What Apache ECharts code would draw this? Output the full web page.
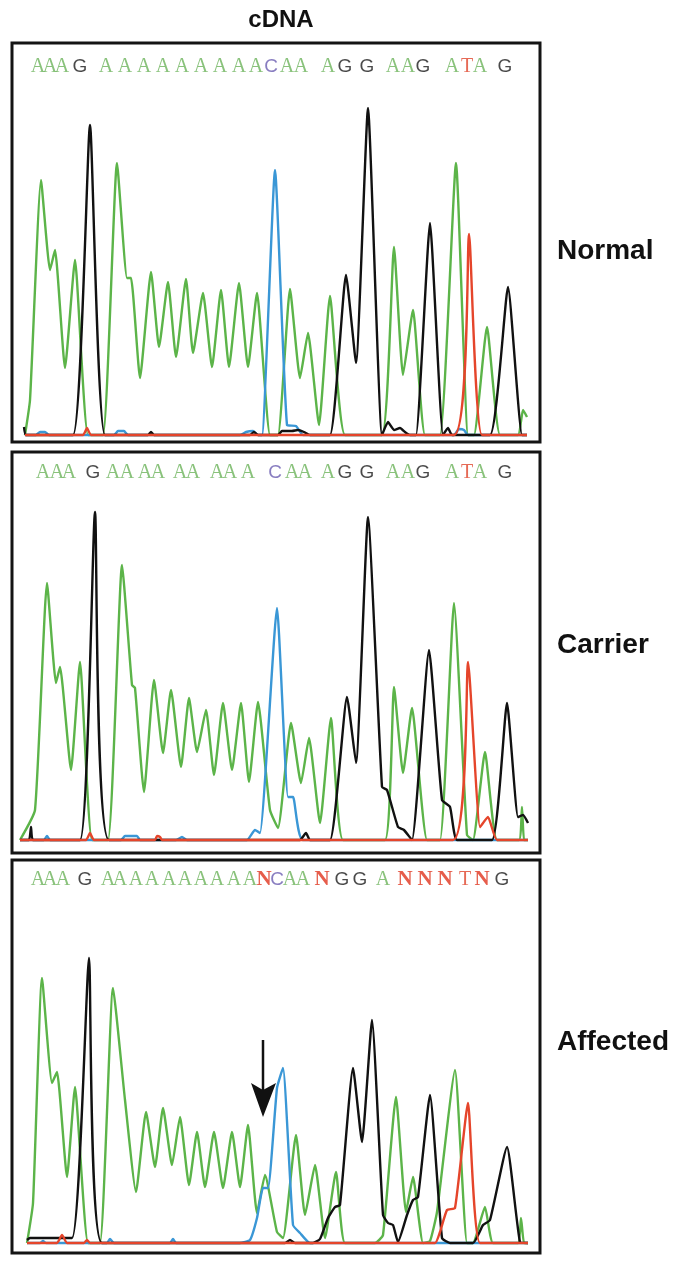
<!DOCTYPE html>
<html><head><meta charset="utf-8">
<script src="https://cdn.jsdelivr.net/npm/echarts@6/dist/echarts.min.js"></script>
<style>html,body{margin:0;padding:0;background:#fff}#c{width:691px;height:1261px}</style>
</head><body><div id="c"></div>
<script>
// ---------- DATA (scan position, signal intensity) ----------
const normalGreen = [[25,0],[30,35],[41,255],[50,165],[55,185],[65,67],[75,175],[88,0],[103,0],[117,272],[127,157],[131,157],[140,57],[151,163],[159,88],[168,153],[176,78],[186,156],[193,82],[203,142],[212,68],[221,145],[229,68],[239,152],[248,68],[257,142],[270,0],[278,0],[290,146],[300,57],[308,102],[319,10],[330,139],[345,0],[382,0],[394,188],[403,60],[413,125],[425,0],[440,0],[456,272],[468,0],[474,0],[487,108],[500,0],[518,0],[523,25],[527,18]];
const normalBlack = [[24,8],[26,0],[73,0],[90,310],[105,0],[148,0],[151,3],[154,0],[250,0],[254,3],[258,0],[278,0],[282,4],[292,4],[298,5],[304,3],[310,0],[330,0],[346,160],[356,72],[368,327],[382,0],[388,13],[394,5],[400,7],[405,3],[410,0],[416,0],[430,212],[443,0],[448,7],[452,0],[490,0],[508,148],[522,0],[527,0]];
const normalBlue = [[25,0],[36,0],[40,3],[45,3],[49,0],[114,0],[118,4],[124,4],[128,0],[240,0],[246,3],[253,4],[258,0],[262,0],[275,265],[287,10],[296,9],[303,0],[454,0],[459,6],[464,5],[468,0],[527,0]];
const normalRed = [[25,0],[83,0],[87,7],[91,0],[454,0],[469,201],[482,0],[527,0]];

const carrierGreen = [[20,0],[35,30],[47,257],[56,157],[60,173],[71,70],[80,178],[92,0],[108,0],[122,275],[132,155],[135,152],[144,48],[154,160],[163,87],[171,150],[181,73],[189,142],[197,88],[206,130],[214,65],[223,137],[232,70],[241,137],[249,58],[258,138],[270,30],[278,12],[291,117],[301,57],[309,102],[320,17],[331,122],[343,0],[385,0],[394,153],[403,67],[412,132],[427,0],[440,0],[454,237],[467,5],[473,0],[485,88],[497,0],[519,0],[522,33],[524,0],[528,0]];
const carrierBlack = [[20,0],[29,0],[31,13],[33,0],[80,0],[95,328],[109,0],[300,0],[306,7],[310,0],[330,0],[347,143],[356,77],[368,323],[382,53],[387,50],[398,13],[404,10],[412,0],[429,190],[442,40],[450,33],[457,0],[492,0],[507,137],[518,23],[523,25],[528,17]];
const carrierBlue = [[20,0],[44,0],[47,4],[50,0],[121,0],[125,4],[137,4],[140,0],[176,0],[182,3],[187,0],[247,0],[255,10],[260,7],[277,232],[288,43],[293,43],[303,0],[528,0]];
const carrierRed = [[20,0],[86,0],[90,7],[94,0],[155,0],[157,4],[160,3],[162,0],[453,0],[468,178],[480,13],[488,23],[497,0],[528,0]];

const affectedGreen = [[27,0],[33,40],[42,265],[52,160],[57,171],[67,66],[75,156],[88,0],[100,0],[113,255],[125,143],[136,51],[146,131],[155,76],[163,135],[172,78],[180,126],[189,58],[197,111],[205,56],[214,111],[223,55],[232,111],[240,56],[248,118],[257,30],[265,68],[277,11],[283,5],[296,108],[305,28],[315,78],[325,5],[336,71],[345,0],[375,0],[383,8],[396,146],[406,31],[413,66],[423,0],[430,2],[437,31],[455,173],[467,0],[473,0],[485,36],[493,0],[518,0],[521,25],[524,0],[528,0]];
const affectedBlack = [[27,3],[30,5],[72,5],[89,285],[102,0],[285,0],[290,3],[295,0],[313,0],[320,4],[328,25],[335,36],[340,38],[353,175],[362,101],[372,223],[383,28],[388,20],[393,18],[398,1],[407,28],[413,43],[418,46],[430,148],[442,5],[450,0],[473,0],[483,18],[490,23],[507,96],[520,1],[528,0]];
const affectedBlue = [[27,0],[40,0],[43,2],[46,0],[107,0],[110,4],[114,0],[170,0],[173,4],[176,0],[240,0],[250,3],[257,25],[263,55],[268,55],[277,155],[283,175],[293,18],[300,10],[310,0],[528,0]];
const affectedRed = [[27,0],[57,0],[62,8],[67,0],[84,0],[87,3],[90,0],[435,0],[440,11],[447,33],[455,35],[468,140],[480,0],[528,0]];

// base calls and their scan positions
const normalSeq = 'AAAGAAAAAAAAACAAAGGAAGATAG'.split('');
const normalCalls = [38,50,62,80,106,125,144,163,182,201,220,239,256,271,287,301,328,345,367,393,408,423,452,467,480,505];
const carrierSeq = 'AAAGAAAAAAAAACAAAGGAAGATAG'.split('');
const carrierCalls = [43,57,69,93,113,127,145,158,180,193,217,230,248,275,292,305,328,345,367,393,408,423,452,467,480,505];
const affectedSeq = 'AAAGAAAAAAAAAANCAANGGANNNTNG'.split('');
const affectedCalls = [38,50,63,85,108,120,136,152,169,185,201,217,234,250,264,277,290,303,322,342,360,383,405,425,445,465,482,502];

const sampleLabels = ['Normal','Carrier','Affected'];
const titleText = 'cDNA';

// ---------- LAYOUT ----------
const panels = [
  {g:normalGreen,k:normalBlack,b:normalBlue,r:normalRed,seq:normalSeq,calls:normalCalls, top:43, bottom:442, base:435, textY:67, labelY:251},
  {g:carrierGreen,k:carrierBlack,b:carrierBlue,r:carrierRed,seq:carrierSeq,calls:carrierCalls, top:452, bottom:853, base:840, textY:473, labelY:645},
  {g:affectedGreen,k:affectedBlack,b:affectedBlue,r:affectedRed,seq:affectedSeq,calls:affectedCalls, top:860, bottom:1253, base:1243, textY:880, labelY:1042}
];
const COL = {g:'#5cb449', k:'#111111', b:'#3a97d6', r:'#e5452b'};
const serif = '"Liberation Serif","DejaVu Serif",serif';
const sans = '"Liberation Sans",Arial,sans-serif';
const rich = {
  A:{color:'#6cb35a', fontFamily:serif, fontSize:20},
  T:{color:'#e0452c', fontFamily:serif, fontSize:20},
  G:{color:'#1c1c1c', fontFamily:sans, fontSize:19},
  C:{color:'#6a5cb0', fontFamily:sans, fontSize:19},
  N:{color:'#e0341e', fontFamily:serif, fontSize:21, fontWeight:'bold'}
};

const grids=[], xAxes=[], yAxes=[], series=[], graphics=[];
panels.forEach((p,i)=>{
  grids.push({left:12, width:528, top:p.top, height:p.bottom-p.top, show:true, borderColor:'#141414', borderWidth:3, backgroundColor:'#fff'});
  xAxes.push({gridIndex:i, type:'value', min:12, max:540, show:false});
  yAxes.push({gridIndex:i, type:'value', min:p.base-p.bottom, max:p.base-p.top, show:false});
  [['g',p.g],['b',p.b],['k',p.k],['r',p.r]].forEach(([c,d],j)=>{
    series.push({type:'line', xAxisIndex:i, yAxisIndex:i, data:d, showSymbol:false, smooth:0.15,
      lineStyle:{color:COL[c], width:2.4, join:'round'}, z:2+j, silent:true});
  });
  const ty = p.base - p.textY;
  series.push({type:'scatter', xAxisIndex:i, yAxisIndex:i, symbolSize:1, itemStyle:{color:'transparent'}, z:10, silent:true,
    data:p.calls.map((x,k)=>({value:[x,ty], label:{formatter:'{'+p.seq[k]+'|'+p.seq[k]+'}'}})),
    label:{show:true, position:'inside', rich:rich}});
  graphics.push({type:'text', x:557, y:p.labelY, style:{text:sampleLabels[i], font:'bold 28px '+sans, fill:'#111', textVerticalAlign:'middle'}});
});
graphics.push({type:'text', x:281, y:20, style:{text:titleText, font:'bold 24px '+sans, fill:'#111', textAlign:'center', textVerticalAlign:'middle'}});
// arrow (annotation)
graphics.push({type:'line', shape:{x1:263,y1:1040,x2:263,y2:1092}, style:{stroke:'#111', lineWidth:2.5}, z:20});
graphics.push({type:'polygon', shape:{points:[[251,1083],[263,1090],[276,1083],[263,1117]]}, style:{fill:'#111'}, z:20});

const chart = echarts.init(document.getElementById('c'));
chart.setOption({animation:false, backgroundColor:'#fff', grid:grids, xAxis:xAxes, yAxis:yAxes, series:series, graphic:graphics});
</script></body></html>
